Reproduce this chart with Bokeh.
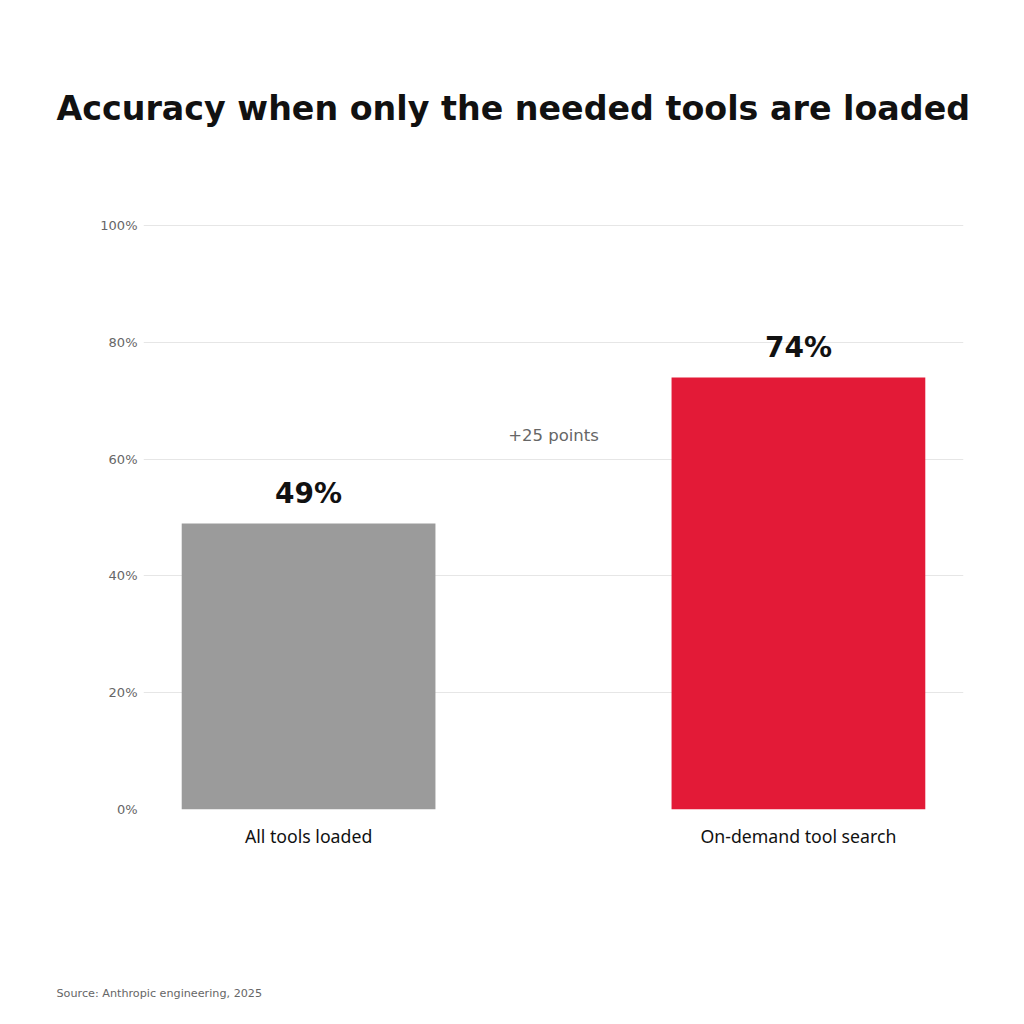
from bokeh.plotting import figure
from bokeh.layouts import column
from bokeh.models import Title, FixedTicker, Range1d, ColumnDataSource
from bokeh.core.properties import value
from bokeh.embed import file_html
from bokeh.resources import INLINE

# ---- data ----
categories = ["All tools loaded", "On-demand tool search"]
accuracy = [49, 74]
bar_colors = ["#9b9b9b", "#e31a37"]
y_ticks = [0, 20, 40, 60, 80, 100]
title_text = "Accuracy when only the needed tools are loaded"
source_text = "Source: Anthropic engineering, 2025"

FONT = "DejaVu Sans"

xs = list(range(len(categories)))
src = ColumnDataSource(dict(
    x=xs, top=accuracy, color=bar_colors,
    label=[f"{v}%" for v in accuracy],
))

p = figure(width=1008, height=976, output_backend="svg", toolbar_location=None,
           x_range=Range1d(-0.337, 1.337), y_range=Range1d(0, 105),
           min_border_left=143, min_border_right=45, min_border_top=196,
           min_border_bottom=167, outline_line_color=None)

p.vbar(x="x", top="top", width=0.518, color="color", source=src, line_color=None)

p.text(x="x", y="top", text="label", source=src, text_align="center",
       text_baseline="alphabetic", y_offset=-30, text_font=value(FONT),
       text_font_style="bold", text_font_size="28px", text_color="#111111")

diff = accuracy[1] - accuracy[0]
p.text(x=[(xs[0] + xs[1]) / 2], y=[accuracy[1] - 10], text=[f"+{diff} points"],
       text_align="center", text_baseline="middle", text_font=value(FONT),
       text_font_size="16.5px", text_color="#666666")

# axes
p.xaxis.ticker = FixedTicker(ticks=xs)
p.xaxis.major_label_overrides = {i: c for i, c in zip(xs, categories)}
p.xaxis.axis_line_color = None
p.xaxis.major_tick_line_color = None
p.xaxis.minor_tick_line_color = None
p.xaxis.major_label_text_font = "Noto Sans"
p.xaxis.major_label_text_font_size = "17.7px"
p.xaxis.major_label_text_color = "#111111"
p.xaxis.major_label_standoff = 8
p.xgrid.grid_line_color = None

p.yaxis.ticker = FixedTicker(ticks=y_ticks)
p.yaxis.major_label_overrides = {t: f"{t}%" for t in y_ticks}
p.yaxis.axis_line_color = None
p.yaxis.major_tick_line_color = None
p.yaxis.minor_tick_line_color = None
p.yaxis.major_label_text_font = FONT
p.yaxis.major_label_text_font_size = "13px"
p.yaxis.major_label_text_color = "#666666"
p.yaxis.major_label_standoff = 0
p.ygrid.grid_line_color = "#e6e6e6"
p.ygrid.grid_line_width = 1

p.add_layout(Title(text=title_text, align="left", offset=-87, standoff=138,
                   text_font=FONT, text_font_size="33.3px", text_font_style="bold",
                   text_color="#111111"), "above")

# footer with the source note
p2 = figure(width=1008, height=48, output_backend="svg", toolbar_location=None,
            x_range=Range1d(0, 1), y_range=Range1d(0, 1),
            x_axis_location=None, y_axis_location=None,
            min_border=0, min_border_left=143, min_border_right=45,
            outline_line_color=None)
p2.grid.grid_line_color = None
p2.add_layout(Title(text=source_text, align="left", offset=-87, standoff=17,
                    text_font=FONT, text_font_size="11.2px", text_font_style="normal",
                    text_color="#666666"), "above")

layout = column(p, p2, spacing=0)
open("out.html", "w").write(file_html(layout, INLINE))
